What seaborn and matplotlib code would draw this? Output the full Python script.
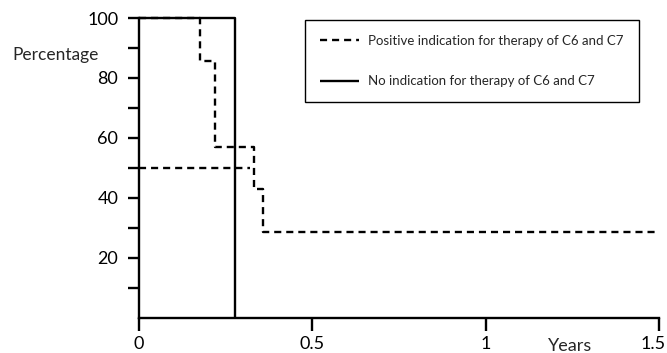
import matplotlib
matplotlib.use("Agg")
import matplotlib.pyplot as plt
import matplotlib.transforms as mtransforms
import seaborn as sns
import pandas as pd
import numpy as np

# Data
pos_times = [0.0, 0.176, 0.219, 0.332, 0.358]
pos_surv = [100.0, 85.7, 57.1, 42.9, 28.6]
pos_end = 1.5
no_times = [0.0, 0.277]
no_surv = [100.0, 0.0]
median_x = [0.0, 0.32]
median_y = [50.0, 50.0]
x_ticks = [0, 0.5, 1, 1.5]
x_ticklabels = ["0", "0.5", "1", "1.5"]
y_ticks = [20, 40, 60, 80, 100]
label_pos = "Positive indication for therapy of C6 and C7"
label_no = "No indication for therapy of C6 and C7"


def steps(times, surv, end=None):
    xs, ys = [], []
    for i, (t, s) in enumerate(zip(times, surv)):
        if i > 0:
            xs.append(t)
            ys.append(surv[i - 1])
        xs.append(t)
        ys.append(s)
    if end is not None:
        xs.append(end)
        ys.append(surv[-1])
    return xs, ys


sns.set_theme(style="ticks")
plt.rcParams["font.family"] = ["Lato", "DejaVu Sans"]

fig = plt.figure(figsize=(6.67, 3.53), dpi=100)
ax = fig.add_axes([0.2084, 0.100, 0.7796, 0.849])

px, py = steps(pos_times, pos_surv, pos_end)
nx, ny = steps(no_times, no_surv)
df_pos = pd.DataFrame({"x": px, "y": py})
df_no = pd.DataFrame({"x": nx, "y": ny})
df_med = pd.DataFrame({"x": median_x, "y": median_y})

lw = 1.7
dash = (0, (3.0, 2.1))
sns.lineplot(data=df_med, x="x", y="y", ax=ax, color="black", lw=lw,
             sort=False, estimator=None, linestyle=dash)
sns.lineplot(data=df_pos, x="x", y="y", ax=ax, color="black", lw=lw,
             sort=False, estimator=None, linestyle=dash, label=label_pos)
sns.lineplot(data=df_no, x="x", y="y", ax=ax, color="black", lw=lw,
             sort=False, estimator=None, label=label_no)
for ln in ax.lines:
    ln.set_clip_on(False)
    ln.set_solid_capstyle("butt")
    ln.set_dash_capstyle("butt")

ax.set_xlim(0, 1.5)
ax.set_ylim(0, 100)
ax.set_xticks(x_ticks)
ax.set_xticklabels(x_ticklabels)
ax.set_yticks(y_ticks)
ax.set_yticks([10, 30, 50, 70, 90], minor=True)
ax.tick_params(axis="both", which="both", direction="out", width=1.7, color="black",
               labelsize=13, labelcolor="black")
ax.tick_params(axis="y", which="both", length=8, pad=7)
ax.tick_params(axis="x", which="both", length=9, pad=4)
for s in ["top", "right"]:
    ax.spines[s].set_visible(False)
for s in ["left", "bottom"]:
    ax.spines[s].set_linewidth(1.7)
    ax.spines[s].set_color("black")
ax.set_xlabel("")
ax.set_ylabel("")
# nudge the last x tick label so it stays inside the figure
last = ax.get_xticklabels()[-1]
last.set_transform(last.get_transform() +
                   mtransforms.ScaledTranslation(-6 / 100, 0, fig.dpi_scale_trans))

fig.text(0.018, 0.844, "Percentage", fontsize=12.5, ha="left", va="center")
fig.text(0.855, 0.021, "Years", fontsize=13, ha="center", va="center")

leg = ax.legend(loc="upper left", bbox_to_anchor=(0.457, 0.943), bbox_transform=fig.transFigure,
                frameon=True, fancybox=False, framealpha=1, edgecolor="black",
                fontsize=9.5, handlelength=3.0, handletextpad=0.7, labelspacing=2.15,
                borderpad=1.12, borderaxespad=0)
leg.get_frame().set_linewidth(1.0)

fig.savefig("out.png", dpi=100)
